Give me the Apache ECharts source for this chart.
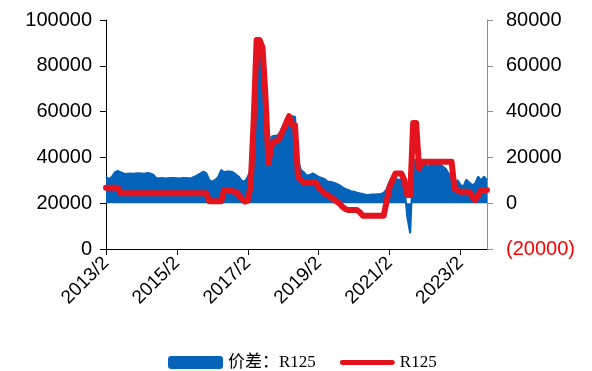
<!DOCTYPE html>
<html>
<head>
<meta charset="utf-8">
<script src="https://cdn.jsdelivr.net/npm/echarts@6/dist/echarts.min.js"></script>
<style>
  html, body { margin: 0; padding: 0; background: #fff; }
  #main { width: 592px; height: 371px; }
</style>
</head>
<body>
<div id="main"></div>
<script>
// 月度数据, 2013/2 起共 130 个月
var startYear = 2013, startMonth = 2, monthCount = 130;
var months = [];
for (var i = 0; i < monthCount; i++) {
  var m = startMonth - 1 + i;
  months.push((startYear + Math.floor(m / 12)) + '/' + (m % 12 + 1));
}

// R125 价格 (左轴)
var priceR125 = [
  26800, 26800, 26800, 26800, 26800,
  24300, 24300, 24300, 24300, 24300, 24300, 24300, 24300, 24300, 24300,
  24300, 24300, 24300, 24300, 24300, 24300, 24300, 24300, 24300, 24300,
  24300, 24300, 24300, 24300, 24300, 24300, 24300, 24300, 24300, 24300,
  20800, 20800, 20800, 20800, 20800,
  25800, 25800, 25800, 25000, 25000,
  23500, 22000, 20700, 21000, 28000, 56000, 91300, 91300, 88000, 66500,
  37500, 45000, 47000, 47000, 49000, 52000, 55000, 58000, 54000, 54000, 31600,
  30100,
  29000, 29000, 29000, 29000, 29000,
  27000, 25500, 24400, 23500, 22800, 21800, 20800, 20000, 18500, 17500,
  17000, 17000, 17000, 17000,
  16000,
  14500, 14500, 14500, 14500, 14500, 14500, 14500, 14500,
  20700, 27000, 30000, 33000, 33000, 33000, 30000, 23600, 23600, 55000, 55000, 35300,
  38100, 38100, 38100, 38100, 38100, 38100, 38100, 38100, 38100, 38100, 38100,
  26500, 25500,
  25000, 25000, 25000, 25000,
  23000, 21400, 23500,
  25800, 25800, 25800
];

// 价差: R125 (右轴)
var spreadR125 = [
  11600, 10500, 11500, 13500, 14100, 13500, 13000, 12800, 13000, 12900,
  13000, 13100, 13000, 12900, 13200, 13000, 12500, 11000, 10900, 11000,
  10800, 10900, 11000, 11000, 10900, 10800, 11000, 11000, 10900, 11000,
  11600, 12300, 13000, 13800, 13000, 10100, 9400, 10200, 11500, 14500,
  13500, 13800, 13800, 13500, 12500, 11500, 9800, 9400, 11500, 15000,
  35000, 72000, 71000, 62000, 50000, 20300, 29000, 29500, 29500, 31000,
  34000, 37000, 38500, 38000, 37800, 18900, 14500, 13500, 12000, 12300,
  13000, 12300, 11500, 11000, 10500, 9500, 9400, 9000, 8500, 7900,
  7000, 6200, 5800, 5200, 5000, 4600, 4300, 4000, 3600, 3600,
  3800, 3800, 3900, 4000, 4500, 6000, 9400, 11600, 11000, 10100,
  10500, 8000, -5900, -13100, 18900, 18900, 17000, 16700, 18000, 15500,
  17500, 17000, 16500, 17500, 16000, 15000, 13000, 11000, 7200, 10100,
  8000, 7200, 10300, 9000, 7900, 8500, 11600, 10000, 11600, 10100
];

var leftTicks = [0, 100000, 20000];   // min, max, interval
var rightTicks = [-20000, 80000, 20000];

var blue = '#0563BA';
var red = '#E3141E';

var option = {
  animation: false,
  grid: { left: 106, right: 105, top: 20, bottom: 122 },
  legend: {
    left: 163,
    top: 349,
    itemWidth: 55,
    itemHeight: 13,
    itemGap: 24,
    textStyle: { fontFamily: 'Liberation Serif, Noto Sans CJK SC', fontSize: 17, color: '#000' },
    data: [
      { name: '价差：R125', icon: 'roundRect' },
      { name: 'R125', icon: 'path://M2,0 L54,0 A2.5,2.5 0 0 1 54,5 L2,5 A2.5,2.5 0 0 1 2,0 Z' }
    ]
  },
  xAxis: {
    type: 'category',
    data: months,
    boundaryGap: false,
    axisLine: { onZero: false, lineStyle: { color: '#000', width: 1 } },
    axisTick: { interval: 23, length: 6, lineStyle: { color: '#000' } },
    axisLabel: {
      interval: 23, rotate: 45, margin: 11,
      fontFamily: 'Liberation Sans', fontSize: 19, color: '#000'
    },
    splitLine: { show: false }
  },
  yAxis: [
    {
      type: 'value',
      min: leftTicks[0], max: leftTicks[1], interval: leftTicks[2],
      axisLine: { show: true, lineStyle: { color: '#000' } },
      axisTick: { show: true, length: 6, lineStyle: { color: '#000' } },
      axisLabel: {
        margin: 14, fontFamily: 'Liberation Sans', fontSize: 20, color: '#000',
        formatter: function (v) { return String(v); }
      },
      splitLine: { show: false }
    },
    {
      type: 'value',
      position: 'right',
      min: rightTicks[0], max: rightTicks[1], interval: rightTicks[2],
      axisLine: { show: true, lineStyle: { color: '#8c8c8c' } },
      axisTick: { show: true, length: 6, lineStyle: { color: '#8c8c8c' } },
      axisLabel: {
        margin: 19, fontFamily: 'Liberation Sans', fontSize: 20, color: '#000',
        formatter: function (v) {
          if (v < 0) return '{neg|(' + Math.abs(v) + ')}';
          return String(v);
        },
        rich: { neg: { color: '#FF0000', fontFamily: 'Liberation Sans', fontSize: 20 } }
      },
      splitLine: { show: false }
    }
  ],
  series: [
    {
      name: '价差：R125',
      type: 'line',
      yAxisIndex: 1,
      data: spreadR125,
      showSymbol: false,
      symbol: 'none',
      lineStyle: { color: blue, width: 2 },
      itemStyle: { color: blue },
      areaStyle: { color: blue, opacity: 1, origin: 0 }
    },
    {
      name: 'R125',
      type: 'line',
      yAxisIndex: 0,
      data: priceR125,
      showSymbol: false,
      symbol: 'none',
      lineStyle: { color: red, width: 6, cap: 'round', join: 'round' },
      itemStyle: { color: red }
    }
  ]
};

var myChart = echarts.init(document.getElementById('main'));
myChart.setOption(option);
</script>
</body>
</html>
